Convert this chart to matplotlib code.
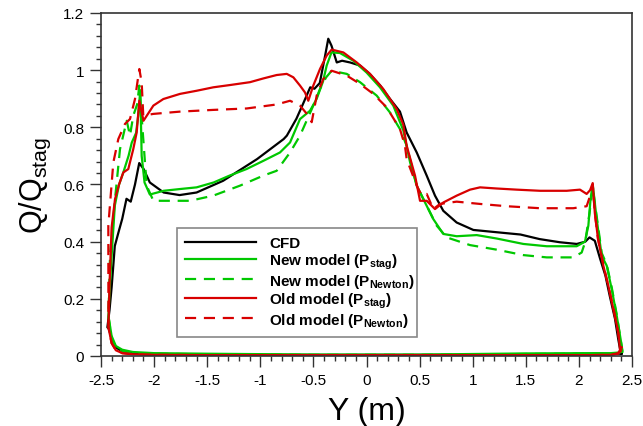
import matplotlib
matplotlib.use("Agg")
import matplotlib.pyplot as plt
from matplotlib.ticker import MultipleLocator, FormatStrFormatter
import numpy as np

plt.rcParams['font.family'] = ['Liberation Sans', 'DejaVu Sans']
plt.rcParams['mathtext.fontset'] = 'custom'
plt.rcParams['mathtext.rm'] = 'Liberation Sans'
plt.rcParams['mathtext.bf'] = 'Liberation Sans:bold'
plt.rcParams['axes.unicode_minus'] = False

# upper surface (x increasing)
cfd_x = [-2.44, -2.42, -2.40, -2.37, -2.33, -2.30, -2.26, -2.22, -2.18, -2.14, -2.10,
         -2.04, -1.91, -1.76, -1.60, -1.35, -1.03, -0.78, -0.75, -0.66, -0.60, -0.53,
         -0.49, -0.44, -0.39, -0.36, -0.33, -0.28, -0.23, -0.155, -0.06, 0.03, 0.13,
         0.22, 0.315, 0.378, 0.473, 0.567, 0.645, 0.723, 0.849, 1.006, 1.226, 1.45,
         1.63, 1.82, 1.98, 2.06, 2.10, 2.15, 2.20, 2.25, 2.29, 2.34, 2.37, 2.39, 2.40]
cfd_y = [0.10, 0.16, 0.24, 0.385, 0.44, 0.48, 0.55, 0.54, 0.60, 0.675, 0.655,
         0.607, 0.572, 0.563, 0.572, 0.613, 0.689, 0.759, 0.771, 0.83, 0.88, 0.94,
         0.935, 0.955, 1.05, 1.11, 1.086, 1.027, 1.033, 1.027, 1.016, 0.987, 0.946,
         0.90, 0.855, 0.782, 0.712, 0.631, 0.561, 0.508, 0.467, 0.441, 0.433, 0.425,
         0.409, 0.398, 0.392, 0.40, 0.415, 0.403, 0.34, 0.281, 0.211, 0.13, 0.06, 0.019, 0.008]

new_stag_x = [-2.43, -2.42, -2.40, -2.37, -2.33, -2.29, -2.24, -2.21, -2.17, -2.15, -2.13,
              -2.117, -2.09, -2.04, -1.91, -1.76, -1.60, -1.44, -1.29, -1.13, -0.97,
              -0.815, -0.72, -0.626, -0.532, -0.47, -0.41, -0.375, -0.33, -0.25, -0.124,
              0.0, 0.127, 0.252, 0.346, 0.41, 0.473, 0.535, 0.629, 0.723, 0.849, 1.038,
              1.226, 1.477, 1.697, 1.979, 2.057, 2.089, 2.11, 2.13, 2.167, 2.215, 2.262,
              2.309, 2.356, 2.403, 2.41]
new_stag_y = [0.14, 0.22, 0.35, 0.526, 0.60, 0.642, 0.701, 0.747, 0.78, 0.84, 0.93,
              0.70, 0.607, 0.565, 0.578, 0.584, 0.59, 0.607, 0.631, 0.654, 0.683,
              0.712, 0.747, 0.829, 0.858, 0.899, 0.96, 1.016, 1.062, 1.06, 1.033,
              0.992, 0.94, 0.876, 0.79, 0.678, 0.596, 0.549, 0.479, 0.427, 0.419, 0.423,
              0.411, 0.392, 0.384, 0.384, 0.40, 0.456, 0.55, 0.60, 0.48, 0.35, 0.316,
              0.234, 0.141, 0.036, 0.015]

new_newt_x = [-2.43, -2.415, -2.368, -2.321, -2.258, -2.227, -2.196, -2.16, -2.139, -2.102,
              -2.07, -2.007, -1.913, -1.662, -1.443, -1.191, -0.972, -0.846, -0.72, -0.626,
              -0.501, -0.438, -0.38, -0.328, -0.186, -0.061, 0.096, 0.221, 0.315, 0.378,
              0.473, 0.567, 0.661, 0.755, 0.975, 1.226, 1.477, 1.697, 1.947, 2.026, 2.06,
              2.10, 2.13, 2.167, 2.215, 2.262, 2.309, 2.356, 2.40, 2.41]
new_newt_y = [0.14, 0.351, 0.549, 0.724, 0.823, 0.771, 0.841, 0.88, 0.946, 0.759,
              0.596, 0.543, 0.543, 0.543, 0.561, 0.596, 0.631, 0.648, 0.712, 0.771,
              0.876, 0.934, 0.975, 0.998, 0.987, 0.958, 0.911, 0.852, 0.794, 0.736,
              0.596, 0.526, 0.456, 0.415, 0.388, 0.372, 0.353, 0.345, 0.345, 0.362, 0.40,
              0.50, 0.59, 0.49, 0.36, 0.32, 0.24, 0.145, 0.04, 0.015]

old_stag_x = [-2.43, -2.42, -2.40, -2.368, -2.33, -2.29, -2.243, -2.196, -2.164, -2.139,
              -2.10, -2.007, -1.913, -1.756, -1.599, -1.443, -1.285, -1.097, -0.972,
              -0.846, -0.751, -0.689, -0.626, -0.579, -0.548, -0.501, -0.438, -0.375,
              -0.328, -0.218, -0.092, 0.033, 0.158, 0.284, 0.346, 0.378, 0.457, 0.504,
              0.567, 0.645, 0.723, 0.849, 0.975, 1.069, 1.226, 1.414, 1.634, 1.885,
              2.01, 2.073, 2.105, 2.13, 2.15, 2.18, 2.23, 2.277, 2.324, 2.371, 2.387, 2.40]
old_stag_y = [0.10, 0.25, 0.45, 0.549, 0.60, 0.642, 0.654, 0.724, 0.782, 0.893,
              0.823, 0.876, 0.899, 0.917, 0.928, 0.94, 0.948, 0.958, 0.971,
              0.983, 0.987, 0.975, 0.946, 0.922, 0.893, 0.946, 1.004, 1.051,
              1.072, 1.062, 1.027, 0.987, 0.934, 0.864, 0.81, 0.736, 0.631, 0.543,
              0.543, 0.514, 0.537, 0.561, 0.582, 0.59, 0.586, 0.582, 0.578, 0.578,
              0.582, 0.567, 0.58, 0.605, 0.50, 0.41, 0.316, 0.246, 0.164, 0.083, 0.024, 0.03]

old_newt_x = [-2.43, -2.431, -2.384, -2.337, -2.274, -2.227, -2.18, -2.139, -2.117, -2.102,
              -2.007, -1.756, -1.443, -1.128, -0.846, -0.72, -0.626, -0.548, -0.516,
              -0.469, -0.407, -0.328, -0.186, -0.061, 0.064, 0.19, 0.315, 0.362, 0.378,
              0.473, 0.52, 0.567, 0.629, 0.692, 0.849, 1.069, 1.32, 1.634, 1.947, 2.073,
              2.105, 2.13, 2.15, 2.18, 2.23, 2.28, 2.33, 2.37, 2.39, 2.40]
old_newt_y = [0.10, 0.456, 0.677, 0.759, 0.812, 0.829, 0.899, 1.004, 0.957, 0.841,
              0.847, 0.855, 0.861, 0.866, 0.88, 0.893, 0.876, 0.841, 0.818,
              0.911, 0.969, 0.998, 0.981, 0.952, 0.917, 0.87, 0.794, 0.736, 0.689,
              0.596, 0.561, 0.567, 0.514, 0.532, 0.54, 0.532, 0.524, 0.517, 0.517, 0.524,
              0.56, 0.60, 0.50, 0.41, 0.32, 0.24, 0.16, 0.08, 0.03, 0.02]

# lower surface (x decreasing, back to the leading edge)
lower_x = [2.40, 2.37, 2.30, 2.10, 1.50, 0.50, -0.50, -1.50, -2.00, -2.20, -2.30, -2.36, -2.40, -2.43]
cfd_lower_y = [0.008, 0.008, 0.006, 0.005, 0.004, 0.004, 0.004, 0.004, 0.006, 0.010, 0.016, 0.03, 0.06, 0.10]
new_stag_lower_y = [0.015, 0.012, 0.010, 0.010, 0.009, 0.005, 0.005, 0.008, 0.010, 0.014, 0.022, 0.035, 0.07, 0.14]
new_newt_lower_y = [0.015, 0.010, 0.008, 0.008, 0.007, 0.004, 0.004, 0.006, 0.008, 0.010, 0.015, 0.025, 0.06, 0.14]
old_stag_lower_y = [0.03, 0.010, 0.004, 0.003, 0.003, 0.003, 0.003, 0.003, 0.004, 0.006, 0.010, 0.02, 0.045, 0.10]
old_newt_lower_y = [0.02, 0.008, 0.004, 0.003, 0.003, 0.003, 0.003, 0.003, 0.004, 0.006, 0.010, 0.02, 0.045, 0.10]

labels = ['CFD',
          r'New model (P$_\mathbf{stag}$)',
          r'New model (P$_\mathbf{Newton}$)',
          r'Old model (P$_\mathbf{stag}$)',
          r'Old model (P$_\mathbf{Newton}$)']

green = '#00c800'
red = '#d80000'

fig = plt.figure(figsize=(6.43, 4.27), dpi=100)
ax = fig.add_axes([101 / 643, 1 - 357 / 427, 531 / 643, 343 / 427])

series = [
    (cfd_x, cfd_y, cfd_lower_y, 'black', '-'),
    (new_stag_x, new_stag_y, new_stag_lower_y, green, '-'),
    (new_newt_x, new_newt_y, new_newt_lower_y, green, '--'),
    (old_stag_x, old_stag_y, old_stag_lower_y, red, '-'),
    (old_newt_x, old_newt_y, old_newt_lower_y, red, '--'),
]
for (xu, yu, yl, c, ls), lab in zip(series, labels):
    x = np.concatenate([lower_x, xu])
    y = np.concatenate([yl, yu])
    line, = ax.plot(x, y, color=c, lw=1.6, ls=ls, label=lab)
    if ls == '--':
        line.set_dashes((5, 3.5))

ax.set_xlim(-2.5, 2.5)
ax.set_ylim(0, 1.2)
ax.xaxis.set_major_locator(MultipleLocator(0.5))
ax.xaxis.set_minor_locator(MultipleLocator(0.1))
ax.yaxis.set_major_locator(MultipleLocator(0.2))
ax.yaxis.set_minor_locator(MultipleLocator(0.04))
ax.xaxis.set_major_formatter(FormatStrFormatter('%g'))
ax.yaxis.set_major_formatter(FormatStrFormatter('%g'))
ax.tick_params(which='major', direction='out', length=8, width=1, labelsize=11, pad=4, color='#333333')
ax.tick_params(which='minor', direction='out', length=3.5, width=1, color='#333333')
for s in ax.spines.values():
    s.set_color('#333333')
    s.set_linewidth(1.2)

ax.set_xlabel('Y (m)', fontsize=23, labelpad=7)
ax.set_ylabel(r'Q/Q$_{\mathrm{stag}}$', fontsize=22, labelpad=7)

leg = ax.legend(loc='upper left', bbox_to_anchor=(0.143, 0.061, 0.452, 0.312), mode='expand',
                prop={'weight': 'bold', 'size': 11}, frameon=True, fancybox=False,
                edgecolor='#888888', framealpha=1, borderaxespad=0, handlelength=4.6,
                handletextpad=0.9, labelspacing=0.05, borderpad=0.55)
leg.get_frame().set_linewidth(1.2)

fig.savefig('out.png', dpi=100)
